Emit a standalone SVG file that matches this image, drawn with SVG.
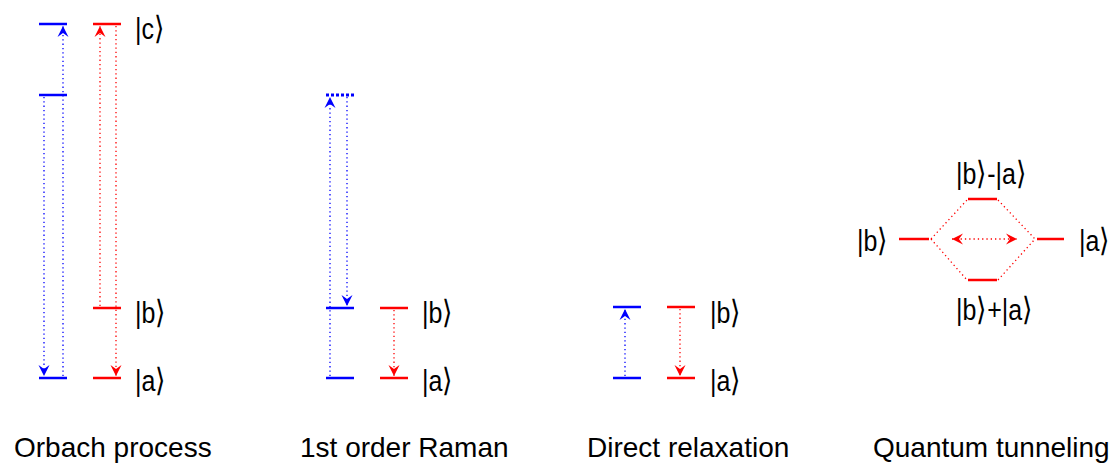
<svg xmlns="http://www.w3.org/2000/svg" width="1114" height="464" viewBox="0 0 1114 464">
<style>
.lvb{stroke:#0000ff;stroke-width:2.5;fill:none}
.lvr{stroke:#ff0000;stroke-width:2.5;fill:none}
.db{stroke:#0000ff;stroke-width:1.3;stroke-dasharray:1.3 3;fill:none}
.dr{stroke:#ff0000;stroke-width:1.3;stroke-dasharray:1.3 3;fill:none}
.ket{font-family:"Liberation Sans","DejaVu Sans",sans-serif;font-size:25px;fill:#000}
.br{font-family:"DejaVu Sans",sans-serif;font-weight:200;font-size:27px}
.ttl{font-family:"Liberation Sans",Arial,sans-serif;font-size:28px;fill:#000}
</style>
<defs>
<marker id="ab" markerUnits="userSpaceOnUse" markerWidth="14" markerHeight="14" viewBox="-12 -7 14 14" refX="0" refY="0" orient="auto-start-reverse">
<path d="M0,0 L-11,-5.5 L-7,0 L-11,5.5 Z" fill="#0000ff"/>
</marker>
<marker id="ar" markerUnits="userSpaceOnUse" markerWidth="14" markerHeight="14" viewBox="-12 -7 14 14" refX="0" refY="0" orient="auto-start-reverse">
<path d="M0,0 L-11,-5.5 L-7,0 L-11,5.5 Z" fill="#ff0000"/>
</marker>
</defs>
<rect width="1114" height="464" fill="#ffffff"/>

<g id="connectors">
<!-- Orbach -->
<line class="db" x1="44" y1="97" x2="44" y2="376" marker-end="url(#ab)"/>
<line class="db" x1="63" y1="376" x2="63" y2="26" marker-end="url(#ab)"/>
<line class="dr" x1="100" y1="306" x2="100" y2="26" marker-end="url(#ar)"/>
<line class="dr" x1="116" y1="26" x2="116" y2="376" marker-end="url(#ar)"/>
<!-- Raman -->
<line class="db" x1="330" y1="376" x2="330" y2="97" marker-end="url(#ab)"/>
<line class="db" x1="347" y1="97" x2="347" y2="306" marker-end="url(#ab)"/>
<line class="dr" x1="394" y1="310" x2="394" y2="376" marker-end="url(#ar)"/>
<!-- Direct -->
<line class="db" x1="625" y1="376" x2="625" y2="309" marker-end="url(#ab)"/>
<line class="dr" x1="680" y1="309" x2="680" y2="376" marker-end="url(#ar)"/>
<!-- Tunneling -->
<line class="dr" x1="931" y1="239" x2="967" y2="200"/>
<line class="dr" x1="998" y1="200" x2="1035" y2="239"/>
<line class="dr" x1="931" y1="239" x2="967" y2="280"/>
<line class="dr" x1="998" y1="280" x2="1035" y2="239"/>
<line class="dr" x1="952" y1="239" x2="1017" y2="239" marker-start="url(#ar)" marker-end="url(#ar)"/>
</g>

<g id="orbach">
<line class="lvb" x1="39" y1="24" x2="67" y2="24"/>
<line class="lvb" x1="39" y1="95" x2="67" y2="95"/>
<line class="lvb" x1="39" y1="378" x2="67" y2="378"/>
<line class="lvr" x1="93" y1="24" x2="121" y2="24"/>
<line class="lvr" x1="93" y1="308" x2="121" y2="308"/>
<line class="lvr" x1="93" y1="378" x2="121" y2="378"/>
<text class="ket" transform="translate(135,39) scale(1,1.2)">|c<tspan class="br">⟩</tspan></text>
<text class="ket" transform="translate(135,323) scale(1,1.2)">|b<tspan class="br">⟩</tspan></text>
<text class="ket" transform="translate(135,391) scale(1,1.2)">|a<tspan class="br">⟩</tspan></text>
<text class="ttl" x="14" y="457">Orbach process</text>
</g>

<g id="raman">
<line stroke="#0000ff" stroke-width="3" stroke-dasharray="3 2" x1="326" y1="95" x2="354" y2="95"/>
<line class="lvb" x1="326" y1="308" x2="354" y2="308"/>
<line class="lvb" x1="326" y1="378" x2="354" y2="378"/>
<line class="lvr" x1="380" y1="308" x2="408" y2="308"/>
<line class="lvr" x1="380" y1="378" x2="408" y2="378"/>
<text class="ket" transform="translate(422,323) scale(1,1.2)">|b<tspan class="br">⟩</tspan></text>
<text class="ket" transform="translate(422,391) scale(1,1.2)">|a<tspan class="br">⟩</tspan></text>
<text class="ttl" x="300" y="457">1st order Raman</text>
</g>

<g id="direct">
<line class="lvb" x1="613" y1="307" x2="641" y2="307"/>
<line class="lvb" x1="613" y1="378" x2="641" y2="378"/>
<line class="lvr" x1="667" y1="307" x2="695" y2="307"/>
<line class="lvr" x1="667" y1="378" x2="695" y2="378"/>
<text class="ket" transform="translate(710,323) scale(1,1.2)">|b<tspan class="br">⟩</tspan></text>
<text class="ket" transform="translate(710,391) scale(1,1.2)">|a<tspan class="br">⟩</tspan></text>
<text class="ttl" x="587" y="457">Direct relaxation</text>
</g>

<g id="tunneling">
<line class="lvr" x1="968" y1="199" x2="997" y2="199"/>
<line class="lvr" x1="968" y1="280" x2="997" y2="280"/>
<line class="lvr" x1="899" y1="239" x2="929" y2="239"/>
<line class="lvr" x1="1037" y1="239" x2="1064" y2="239"/>
<text class="ket" transform="translate(956,184) scale(1,1.2)">|b<tspan class="br">⟩</tspan>-|a<tspan class="br">⟩</tspan></text>
<text class="ket" transform="translate(857,251) scale(1,1.2)">|b<tspan class="br">⟩</tspan></text>
<text class="ket" transform="translate(1079,251) scale(1,1.2)">|a<tspan class="br">⟩</tspan></text>
<text class="ket" transform="translate(956,320) scale(1,1.2)">|b<tspan class="br">⟩</tspan>+|a<tspan class="br">⟩</tspan></text>
<text class="ttl" x="873" y="457">Quantum tunneling</text>
</g>
</svg>
